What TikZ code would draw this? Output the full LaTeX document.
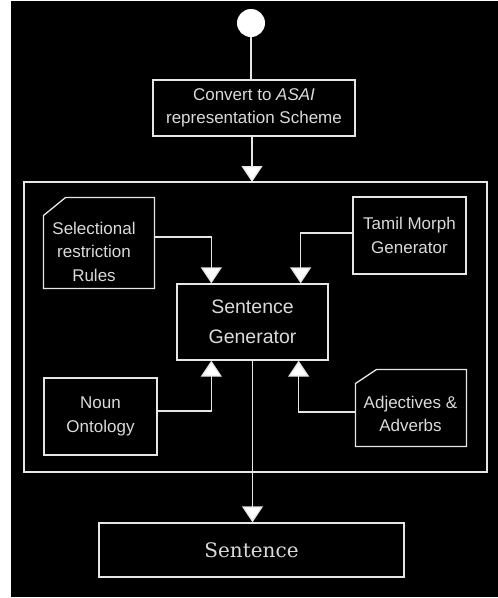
\documentclass[tikz,border=0pt]{standalone}
\usepackage{fontspec}
\setmainfont{Liberation Sans}
\newfontfamily\slabfont{DejaVu Serif}
\usetikzlibrary{arrows.meta}
\definecolor{ln}{HTML}{E6E6E6}
\definecolor{tx}{HTML}{DADADA}
\tikzset{
  box/.style={draw=ln, line width=1.3pt, minimum width=#1, inner sep=0pt},
  txt/.style={text=tx, align=center, font=\fontsize{17}{23.5}\selectfont},
  big/.style={text=tx, align=center, font=\fontsize{19.5}{30}\selectfont},
  conn/.style={draw=ln, line width=1.3pt},
  arr/.style={conn, -{Triangle[width=21pt,length=16pt,fill=white]}},
}
\begin{document}
\begin{tikzpicture}[x=1pt,y=-1pt]
\useasboundingbox (0,0) rectangle (498,598);
\fill[black] (11,1) rectangle (498,597);
% start
\node[circle, fill=white, minimum size=28pt, inner sep=0pt] (start) at (251,23) {};
% convert
\node[box=202pt, minimum height=56pt, txt] (conv) at (254,108) {Convert to \textit{ASAI}\\representation Scheme};
% frame
\node[box=463pt, minimum height=290pt] (frame) at (255.5,327) {};
% sentence generator
\node[box=151pt, minimum height=76pt, big] (sg) at (252.5,322) {Sentence\\Generator};
% selectional (cut corner)
\coordinate (selNW) at (43.5,197.5);
\coordinate (selSE) at (154.5,288.5);
\draw[conn] (65.5,197.5) -- (selSE |- selNW) -- (selSE) -- (selNW |- selSE) -- (43.5,215.5) -- cycle;
\node[txt] (sel) at (94,251.5) {Selectional\\restriction\\Rules};
% tamil morph
\node[box=113pt, minimum height=77pt, txt] (tamil) at (409.5,235.5) {Tamil Morph\\Generator};
% noun ontology
\node[box=113pt, minimum height=77pt, txt] (noun) at (100.5,416.5) {Noun\\Ontology};
% adjectives (cut corner)
\coordinate (adjNW) at (355.5,369.5);
\coordinate (adjSE) at (466.5,446.5);
\draw[conn] (376.5,369.5) -- (adjSE |- adjNW) -- (adjSE) -- (adjNW |- adjSE) -- (355.5,383.5) -- cycle;
\node[txt] (adj) at (410.5,414) {Adjectives \&\\Adverbs};
% final sentence
\node[box=305pt, minimum height=54pt, text=tx, font=\slabfont\fontsize{20}{22}\selectfont] (sent) at (251.5,550) {Sentence};
% connectors
\draw[conn] (start.south) -- (start.south |- conv.north);
\draw[arr] (252,136) -- (252,182);
\coordinate (selE) at (154.5,237);
\draw[arr] (selE) -| ([xshift=35pt]sg.north west);
\draw[arr] ([yshift=2.5pt]tamil.west) -| ([xshift=-28pt]sg.north east);
\draw[arr] ([yshift=5.5pt]noun.east) -| ([xshift=35pt]sg.south west);
\coordinate (adjW) at (355.5,412);
\draw[arr] (adjW) -| ([xshift=-30pt]sg.south east);
\draw[arr] (sg.south) -- (sg.south |- sent.north);
\end{tikzpicture}
\end{document}
